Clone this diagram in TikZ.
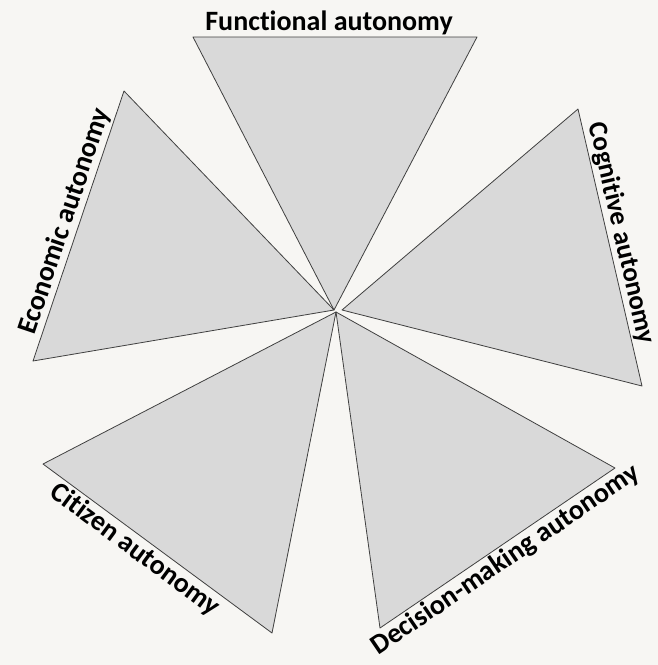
\documentclass[tikz,border=0pt]{standalone}
\usepackage{fontspec}
\setmainfont[Ligatures=NoCommon]{Carlito}
\usepackage{tikz}
\definecolor{paper}{HTML}{F7F6F3}
\definecolor{wedgefill}{HTML}{D9D9D9}
\definecolor{wedgeline}{HTML}{404040}

\begin{document}
\begin{tikzpicture}[line cap=round,line join=round,x=1pt,y=-1pt,
    wedge/.style={draw=wedgeline, fill=wedgefill, line width=0.8pt},
    lbl/.style={font=\bfseries\fontsize{28}{32}\selectfont, sloped, inner sep=2pt}]
    \fill[paper] (0,0) rectangle (658,665);
    \useasboundingbox (0,0) rectangle (658,665);

    % tips of the wedges, all near the middle
    \coordinate (mid) at (334,310);
    \coordinate (midr) at (342,310);
    \coordinate (midb) at (336,312);

    % Functional
    \draw[wedge] (mid) -- (193,37) -- node[lbl, above, xshift=-6pt] (funcl) {Functional autonomy} (477,37) -- cycle;

    % Economic
    \draw[wedge] (mid) -- (33,361) -- node[lbl, above] (econl) {Economic autonomy} (124,91) -- cycle;

    % Cognitive
    \draw[wedge] (midr) -- (578,109) -- node[lbl, above, pos=0.46, font=\bfseries\fontsize{27}{31}\selectfont] (cognl) {Cognitive autonomy} (642,386) -- cycle;

    % Citizen
    \draw[wedge] (midb) -- (43,464) -- node[lbl, below, pos=0.44] (citil) {Citizen autonomy} (272,633) -- cycle;

    % Decision-making
    \draw[wedge] (midb) -- (380,628) -- node[lbl, below] (decil) {Decision-making autonomy} (615,468) -- cycle;
\end{tikzpicture}
\end{document}
